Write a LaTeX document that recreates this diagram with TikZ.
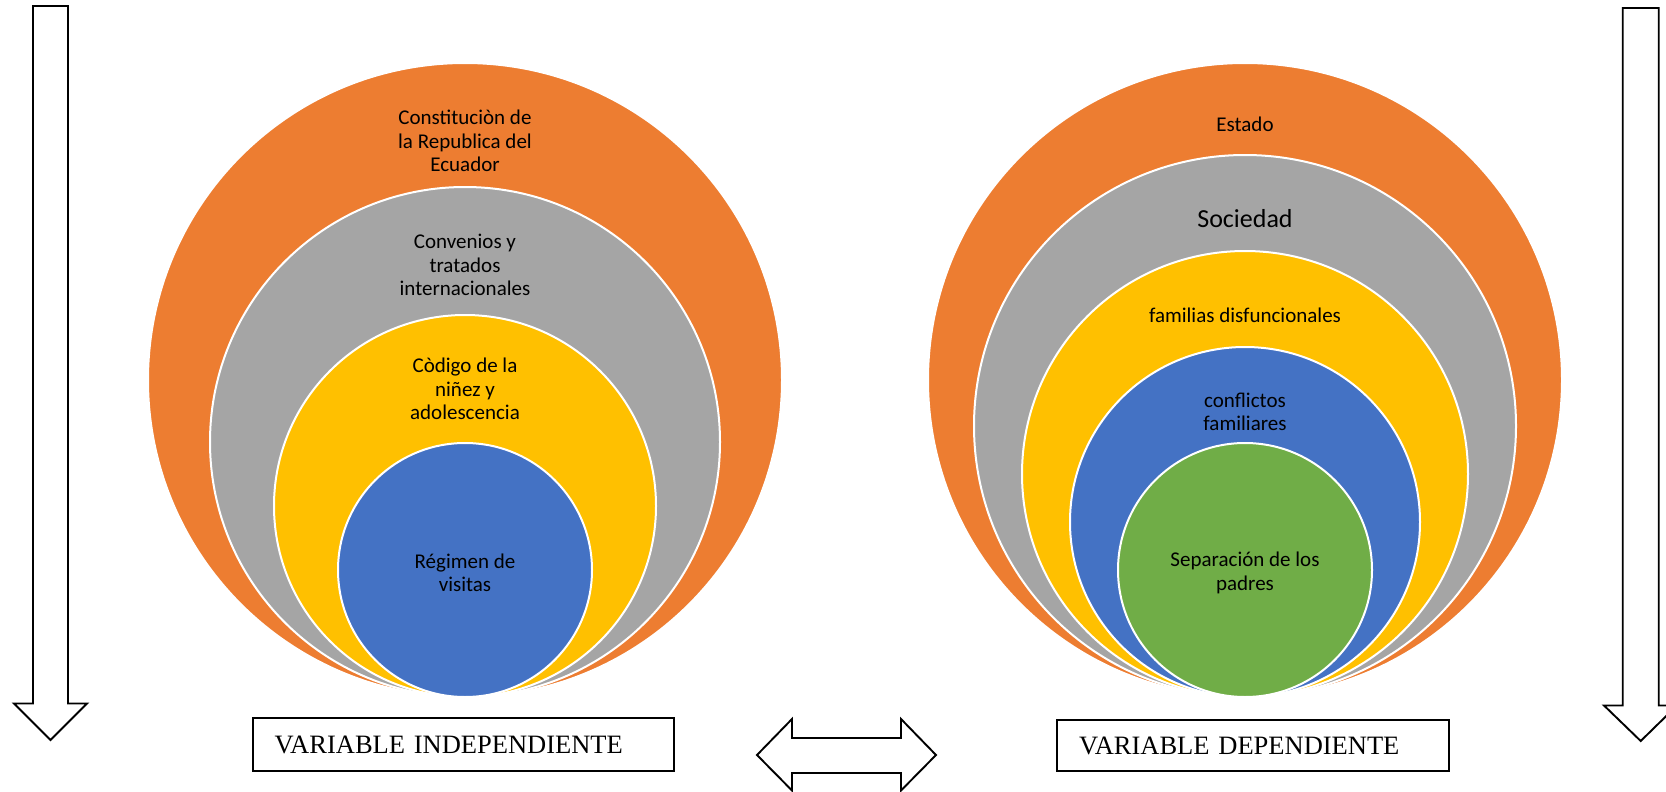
\documentclass[tikz,border=0pt]{standalone}
\usepackage{fontspec}
\setmainfont{Carlito}
\newfontfamily\tnr{Liberation Serif}
\definecolor{corange}{HTML}{ED7D31}
\definecolor{cgray}{HTML}{A5A5A5}
\definecolor{cyellow}{HTML}{FFC000}
\definecolor{cblue}{HTML}{4472C4}
\definecolor{cgreen}{HTML}{70AD47}
\tikzset{
  ring/.style={circle, draw=white, line width=2pt, inner sep=0pt},
  ctext/.style={align=center, text=black, font=\fontsize{21}{23.5}\selectfont, inner sep=0pt},
  blockarrow/.style={draw=black, fill=white, line width=1.9pt, line join=miter},
  varbox/.style={draw=black, fill=white, align=left, inner ysep=0pt, font=\tnr\fontsize{26.5}{30}\selectfont}
}
\begin{document}
\begin{tikzpicture}[x=1pt,y=-1pt]
\useasboundingbox (0,0) rectangle (1666,792);
\clip (0,0) rectangle (1666,792);
% left nest
\node[ring, fill=corange, minimum size=634pt] (lo) at (465,380) {};
\node[ring, fill=cgray, minimum size=510pt] (lg) at (465,442) {};
\node[ring, fill=cyellow, minimum size=382pt] (ly) at (465,506) {};
\node[ring, fill=cblue, minimum size=254pt] (lb) at (465,570) {};
\node[ctext] (tlo) at (465,141) {Constituciòn de\\la Republica del\\Ecuador};
\node[ctext] (tlg) at (465,265) {Convenios y\\tratados\\internacionales};
\node[ctext] (tly) at (465,389) {Còdigo de la\\niñez y\\adolescencia};
\node[ctext] (tlb) at (465,573) {Régimen de\\visitas};
% right nest
\node[ring, fill=corange, minimum size=634pt] (ro) at (1245,380) {};
\node[ring, fill=cgray, minimum size=542pt] (rg) at (1245,426) {};
\node[ring, fill=cyellow, minimum size=446pt] (ry) at (1245,474) {};
\node[ring, fill=cblue, minimum size=350pt] (rb) at (1245,522) {};
\node[ring, fill=cgreen, minimum size=254pt] (rn) at (1245,570) {};
\node[ctext] (tro) at (1245,124) {Estado};
\node[ctext, font=\fontsize{26}{30}\selectfont] (trg) at (1245,219) {Sociedad};
\node[ctext] (try) at (1245,315) {familias disfuncionales};
\node[ctext] (trb) at (1245,412) {conflictos\\familiares};
\node[ctext] (trn) at (1245,573) {Separación de los\\padres};
% boxes
\node[varbox, line width=1.2pt, minimum width=421pt, minimum height=53pt, text width=378pt, inner xsep=21.5pt] (vi) at (463.5,744.5) {VARIABLE INDEPENDIENTE};
\node[varbox, line width=2.5pt, minimum width=392pt, minimum height=51pt, text width=348pt, inner xsep=22pt] (vd) at (1253,745.5) {VARIABLE DEPENDIENTE};
% block arrows
\draw[blockarrow] (33,6) -- (68,6) -- (68,703.5) -- (87,703.5) -- (50.5,740) -- (14,703.5) -- (33,703.5) -- cycle;
\draw[blockarrow] (1622.7,8) -- (1658.7,8) -- (1658.7,705.5) -- (1677,705.5) -- (1640.7,741) -- (1604,705.5) -- (1622.7,705.5) -- cycle;
\draw[blockarrow] (757,755) -- (792,719) -- (792,738) -- (901,738) -- (901,719) -- (936,755) -- (901,790.5) -- (901,773) -- (792,773) -- (792,790.5) -- cycle;
\end{tikzpicture}
\end{document}
